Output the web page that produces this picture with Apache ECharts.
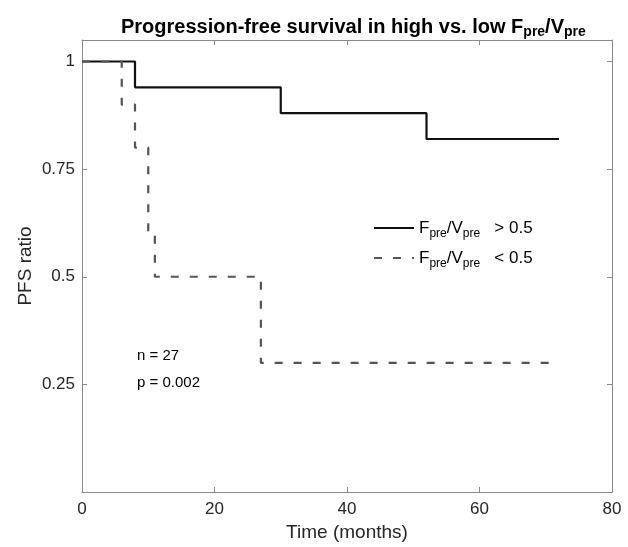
<!DOCTYPE html>
<html>
<head>
<meta charset="utf-8">
<script src="https://cdn.jsdelivr.net/npm/echarts@6/dist/echarts.min.js"></script>
<style>
  html, body { margin: 0; background: #fff; }
  #chart { width: 628px; height: 547px; }
</style>
</head>
<body>
<div id="chart"></div>
<script>
// Kaplan-Meier steps
var timesHigh = [0, 8, 30, 52, 72];
var pfsHigh = [1, 0.94, 0.88, 0.82, 0.82];
var timesLow = [0, 6, 8, 10, 11, 27, 72];
var pfsLow = [1, 0.9, 0.8, 0.6, 0.5, 0.3, 0.3];
var groupNames = ['high', 'low'];
var groupCut = ['>', '<'];
var notes = ['n = 27', 'p = 0.002'];

var font = 'Liberation Sans, Arial, Helvetica, sans-serif';
var axisGray = '#8a8a8a';
var labelColor = '#262626';

function pairs(xs, ys) {
  return xs.map(function (x, i) { return [x, ys[i]]; });
}

var chart = echarts.init(document.getElementById('chart'));

// shared look for the four sides of the box
var boxAxis = {
  axisLine: { show: true, onZero: false, lineStyle: { color: axisGray, width: 1 } },
  axisTick: { show: true, inside: true, length: 5, lineStyle: { color: axisGray } },
  splitLine: { show: false }
};

chart.setOption({
  animation: false,
  textStyle: { fontFamily: font },
  title: {
    text: '{b|Progression-free survival in high vs. low F}{s|pre}{b|/V}{s|pre}',
    left: 116,
    top: 11,
    textStyle: {
      rich: {
        b: { fontFamily: font, fontSize: 20, fontWeight: 'bold', color: '#000', lineHeight: 22 },
        s: { fontFamily: font, fontSize: 14, fontWeight: 'bold', color: '#000', lineHeight: 16, padding: [10, 0, 0, 0] }
      }
    }
  },
  grid: { left: 82, right: 16, top: 40, bottom: 55 },
  legend: {
    orient: 'vertical',
    left: 373,
    top: 216,
    padding: 0,
    itemWidth: 40,
    itemHeight: 14,
    itemGap: 6,
    data: groupNames,
    itemStyle: { opacity: 0 },
    formatter: function (name) {
      var cut = groupCut[groupNames.indexOf(name)];
      return '{n|F}{s|pre}{n|/V}{s|pre}{n|   ' + cut + ' 0.5}';
    },
    textStyle: {
      rich: {
        n: { fontFamily: font, fontSize: 17, color: '#000', lineHeight: 20 },
        s: { fontFamily: font, fontSize: 12, color: '#000', lineHeight: 14, padding: [12, 0, 0, 0] }
      }
    }
  },
  xAxis: [
    Object.assign({}, boxAxis, {
      type: 'value', min: 0, max: 80, interval: 20, position: 'bottom',
      name: 'Time (months)', nameLocation: 'middle', nameGap: 31, nameMoveOverlap: false,
      nameTextStyle: { fontFamily: font, fontSize: 19, color: labelColor },
      axisLabel: { fontFamily: font, fontSize: 17, color: labelColor, margin: 9 }
    }),
    Object.assign({}, boxAxis, {
      type: 'value', min: 0, max: 80, interval: 20, position: 'top',
      axisLabel: { show: false }
    })
  ],
  yAxis: [
    Object.assign({}, boxAxis, {
      type: 'value', min: 0, max: 1.05, interval: 0.25, position: 'left',
      name: 'PFS ratio', nameLocation: 'middle', nameGap: 47, nameMoveOverlap: false,
      nameTextStyle: { fontFamily: font, fontSize: 19, color: labelColor },
      axisLabel: {
        fontFamily: font, fontSize: 17, color: labelColor, margin: 7,
        formatter: function (v) { return (v > 0 && v <= 1) ? String(v) : ''; }
      }
    }),
    Object.assign({}, boxAxis, {
      type: 'value', min: 0, max: 1.05, interval: 0.25, position: 'right',
      axisLabel: { show: false }
    })
  ],
  series: [
    {
      name: groupNames[0],
      type: 'line',
      step: 'end',
      symbol: 'none',
      data: pairs(timesHigh, pfsHigh),
      lineStyle: { color: '#111', width: 2.2 },
      itemStyle: { color: '#111' }
    },
    {
      name: groupNames[1],
      type: 'line',
      step: 'end',
      symbol: 'none',
      data: pairs(timesLow, pfsLow),
      lineStyle: { color: '#555', width: 2.2, type: [8, 11] },
      itemStyle: { color: '#555' }
    }
  ],
  graphic: [
    { type: 'text', left: 137, top: 348, style: { text: notes[0], fontFamily: font, fontSize: 15, fill: '#000' } },
    { type: 'text', left: 137, top: 375, style: { text: notes[1], fontFamily: font, fontSize: 15, fill: '#000' } }
  ]
});
</script>
</body>
</html>
